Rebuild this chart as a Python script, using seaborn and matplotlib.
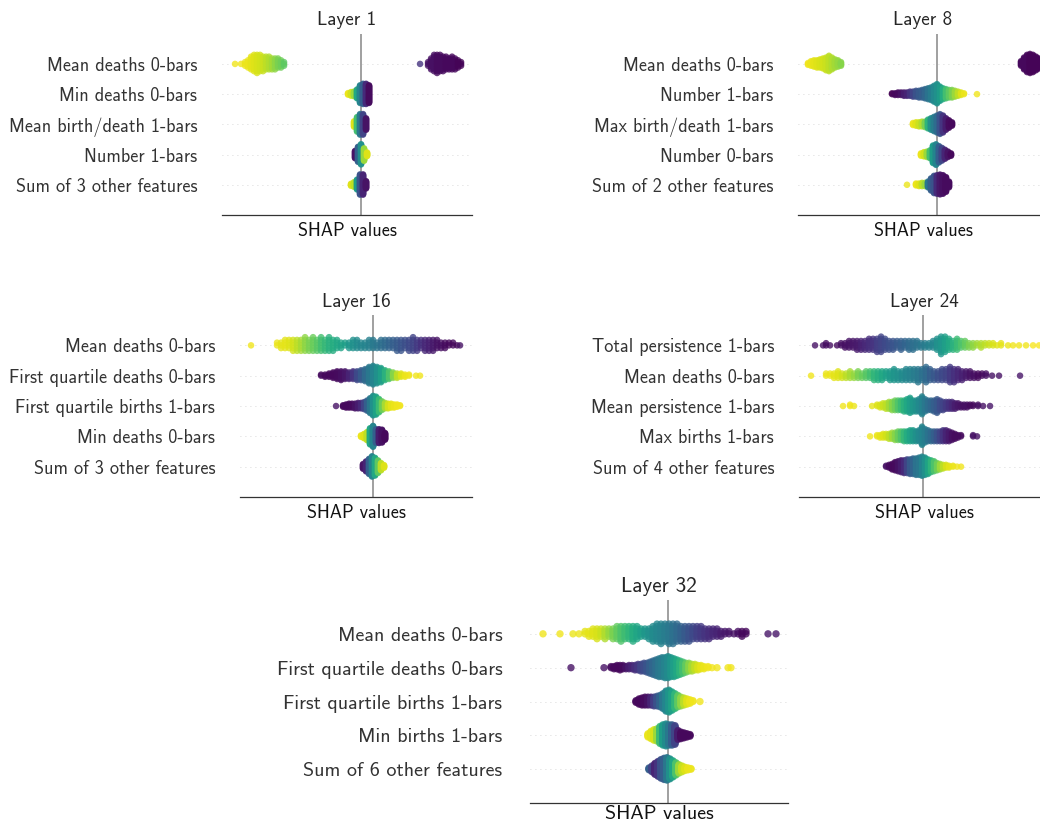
import numpy as np
import pandas as pd
import matplotlib
matplotlib.use("Agg")
import matplotlib.pyplot as plt
import seaborn as sns

# ---------------- data: (SHAP value, number of samples, feature value 0..1) ----------------
L1_LABELS = ["Mean deaths 0-bars", "Min deaths 0-bars", "Mean birth/death 1-bars",
             "Number 1-bars", "Sum of 3 other features"]
L1_R1 = [(-1.26, 1, .98), (-1.20, 1, .98), (-1.16, 3, .97), (-1.13, 5, .97), (-1.10, 8, .96),
         (-1.07, 10, .95), (-1.04, 11, .94), (-1.01, 10, .93), (-0.98, 9, .92), (-0.95, 8, .90),
         (-0.92, 8, .88), (-0.89, 7, .86), (-0.86, 7, .83), (-0.83, 6, .80), (-0.80, 5, .78),
         (-0.77, 3, .75),
         (0.59, 1, .15), (0.67, 3, .05), (0.70, 7, .04), (0.73, 10, .04), (0.76, 11, .03),
         (0.79, 10, .03), (0.82, 9, .03), (0.85, 8, .02), (0.88, 7, .02), (0.91, 8, .02),
         (0.94, 7, .02), (0.97, 5, .01), (1.00, 3, .01)]
L1_R2 = [(-0.13, 4, .97), (-0.10, 8, .93), (-0.07, 10, .85), (-0.04, 18, .6), (-0.01, 35, .45),
         (0.02, 40, .3), (0.05, 40, .12), (0.08, 35, .03)]
L1_R3 = [(-0.07, 10, .95), (-0.04, 25, .7), (-0.01, 35, .4), (0.02, 35, .2), (0.05, 20, .05)]
L1_R4 = [(-0.06, 15, .05), (-0.03, 30, .3), (0.00, 40, .5), (0.03, 25, .85), (0.06, 8, .95)]
L1_R5 = [(-0.10, 5, .95), (-0.07, 10, .9), (-0.04, 20, .55), (-0.01, 40, .25), (0.02, 40, .1),
         (0.05, 15, .05)]

L8_LABELS = ["Mean deaths 0-bars", "Number 1-bars", "Max birth/death 1-bars",
             "Number 0-bars", "Sum of 2 other features"]
L8_R1 = [(-1.29, 3, .98), (-1.26, 6, .97), (-1.23, 8, .96), (-1.20, 9, .95), (-1.17, 10, .94),
         (-1.14, 12, .93), (-1.11, 15, .92), (-1.08, 18, .90), (-1.05, 14, .88), (-1.02, 10, .86),
         (-0.99, 8, .84), (-0.96, 5, .82),
         (0.84, 6, .02), (0.87, 14, .02), (0.90, 20, .02), (0.93, 22, .01), (0.96, 20, .01),
         (0.99, 16, .01), (1.02, 12, .01), (1.05, 8, .01)]
L8_R2 = [(-0.45, 2, .0), (-0.42, 3, .02), (-0.39, 4, .03), (-0.36, 4, .05), (-0.33, 5, .08),
         (-0.30, 5, .1), (-0.27, 6, .15), (-0.24, 7, .2), (-0.21, 8, .25), (-0.18, 9, .28),
         (-0.15, 10, .3), (-0.12, 12, .33), (-0.09, 14, .38), (-0.06, 16, .42), (-0.03, 20, .47),
         (0.00, 24, .5), (0.03, 18, .55), (0.06, 14, .62), (0.09, 12, .7), (0.12, 10, .75),
         (0.15, 10, .8), (0.18, 8, .85), (0.21, 6, .9), (0.24, 4, .95), (0.27, 2, .97),
         (0.40, 1, .98)]
L8_R3 = [(-0.24, 4, .97), (-0.21, 6, .95), (-0.18, 7, .92), (-0.15, 8, .88), (-0.12, 9, .8),
         (-0.09, 14, .65), (-0.06, 18, .5), (-0.03, 22, .42), (0.00, 26, .35), (0.03, 30, .25),
         (0.06, 26, .15), (0.09, 18, .08), (0.12, 12, .03), (0.15, 6, .02)]
L8_R4 = [(-0.16, 5, .97), (-0.13, 8, .93), (-0.10, 10, .85), (-0.07, 14, .7), (-0.04, 30, .55),
         (-0.01, 35, .45), (0.02, 28, .3), (0.05, 22, .2), (0.08, 16, .1), (0.11, 10, .05),
         (0.14, 5, .02)]
L8_R5 = [(-0.30, 1, .97), (-0.21, 4, .97), (-0.18, 5, .95), (-0.15, 6, .9), (-0.12, 6, .85),
         (-0.09, 10, .4), (-0.06, 20, .3), (-0.03, 28, .25), (0.00, 30, .12), (0.03, 32, .06),
         (0.06, 30, .04), (0.09, 24, .03), (0.12, 10, .03)]

L16_LABELS = ["Mean deaths 0-bars", "First quartile deaths 0-bars", "First quartile births 1-bars",
              "Min deaths 0-bars", "Sum of 3 other features"]
L16_R1 = [(-1.22, 1, .98), (-0.96, 2, .97), (-0.92, 3, .96), (-0.88, 4, .96), (-0.84, 4, .95),
          (-0.80, 5, .93), (-0.76, 5, .9), (-0.72, 5, .87), (-0.68, 6, .83), (-0.64, 5, .8),
          (-0.60, 6, .77), (-0.56, 5, .74), (-0.52, 6, .7), (-0.48, 5, .67), (-0.44, 6, .64),
          (-0.40, 5, .62), (-0.36, 4, .6), (-0.32, 3, .58), (-0.28, 2, .56), (-0.24, 3, .53),
          (-0.20, 4, .5), (-0.16, 4, .48), (-0.12, 3, .46), (-0.08, 3, .45), (-0.04, 4, .43),
          (0.00, 4, .41), (0.04, 3, .39), (0.08, 4, .36), (0.12, 4, .34), (0.16, 4, .32),
          (0.20, 4, .3), (0.24, 5, .28), (0.28, 5, .26), (0.32, 4, .24), (0.36, 5, .22),
          (0.40, 6, .2), (0.44, 5, .17), (0.48, 4, .14), (0.52, 5, .11), (0.56, 5, .09),
          (0.60, 5, .07), (0.64, 4, .05), (0.68, 3, .04), (0.72, 3, .03), (0.76, 2, .02),
          (0.80, 2, .02), (0.84, 1, .02), (0.87, 1, .05)]
L16_R2 = [(-0.52, 2, .03), (-0.48, 3, .02), (-0.44, 4, .02), (-0.40, 6, .02), (-0.36, 8, .03),
          (-0.32, 9, .04), (-0.28, 8, .06), (-0.24, 7, .1), (-0.20, 8, .15), (-0.16, 9, .22),
          (-0.12, 10, .28), (-0.08, 12, .34), (-0.04, 16, .4), (0.00, 18, .45), (0.04, 16, .5),
          (0.08, 14, .56), (0.12, 10, .64), (0.16, 8, .72), (0.20, 6, .82), (0.24, 5, .9),
          (0.28, 4, .95), (0.32, 3, .97), (0.36, 2, .98), (0.43, 1, .98), (0.47, 1, .98)]
L16_R3 = [(-0.37, 1, .05), (-0.30, 3, .02), (-0.27, 5, .02), (-0.24, 6, .02), (-0.21, 6, .03),
          (-0.18, 7, .05), (-0.15, 8, .08), (-0.12, 8, .12), (-0.09, 10, .2), (-0.06, 14, .3),
          (-0.03, 20, .4), (0.00, 26, .5), (0.03, 24, .58), (0.06, 18, .68), (0.09, 12, .78),
          (0.12, 8, .87), (0.15, 7, .93), (0.18, 6, .96), (0.21, 5, .97), (0.24, 4, .98),
          (0.27, 2, .98)]
L16_R4 = [(-0.12, 4, .97), (-0.09, 10, .95), (-0.06, 18, .9), (-0.03, 35, .6), (0.00, 45, .45),
          (0.03, 30, .3), (0.06, 30, .08), (0.09, 28, .04), (0.12, 15, .02)]
L16_R5 = [(-0.10, 10, .05), (-0.07, 20, .1), (-0.04, 30, .3), (-0.01, 40, .45), (0.02, 35, .6),
          (0.05, 25, .75), (0.08, 15, .9), (0.11, 6, .95)]

L24_LABELS = ["Total persistence 1-bars", "Mean deaths 0-bars", "Mean persistence 1-bars",
              "Max births 1-bars", "Sum of 4 other features"]
L24_R1 = [(-1.08, 1, .05), (-1.00, 1, .05), (-0.97, 2, .04), (-0.93, 1, .04), (-0.86, 1, .03),
          (-0.82, 2, .04), (-0.78, 3, .04), (-0.74, 4, .05), (-0.70, 4, .06), (-0.66, 5, .07),
          (-0.62, 5, .09), (-0.58, 5, .11), (-0.54, 6, .13), (-0.50, 6, .15), (-0.46, 7, .18),
          (-0.42, 8, .2), (-0.38, 6, .22), (-0.34, 5, .24), (-0.30, 5, .26), (-0.26, 4, .28),
          (-0.22, 5, .3), (-0.18, 4, .32), (-0.14, 5, .34), (-0.10, 5, .36), (-0.06, 4, .38),
          (-0.02, 3, .4), (0.02, 3, .42), (0.06, 3, .44), (0.10, 4, .46), (0.14, 6, .5),
          (0.18, 9, .53), (0.22, 8, .56), (0.26, 6, .6), (0.30, 5, .64), (0.34, 6, .68),
          (0.38, 4, .72), (0.42, 4, .76), (0.46, 3, .8), (0.50, 3, .83), (0.54, 2, .86),
          (0.58, 3, .88), (0.62, 2, .9), (0.66, 2, .92), (0.70, 2, .94), (0.74, 1, .95),
          (0.78, 2, .96), (0.85, 1, .97), (0.90, 1, .98), (0.96, 1, .98), (1.03, 1, .98),
          (1.10, 1, .99), (1.16, 1, .99)]
L24_R2 = [(-1.12, 1, .98), (-0.97, 2, .97), (-0.93, 2, .97), (-0.89, 3, .96), (-0.85, 4, .95),
          (-0.81, 3, .93), (-0.77, 3, .9), (-0.73, 4, .87), (-0.69, 3, .84), (-0.65, 4, .8),
          (-0.61, 3, .77), (-0.57, 4, .74), (-0.53, 4, .7), (-0.49, 5, .66), (-0.45, 5, .63),
          (-0.41, 5, .6), (-0.37, 4, .57), (-0.33, 5, .54), (-0.29, 6, .52), (-0.25, 5, .5),
          (-0.21, 5, .48), (-0.17, 6, .46), (-0.13, 6, .44), (-0.09, 6, .42), (-0.05, 7, .4),
          (-0.01, 6, .37), (0.03, 8, .34), (0.07, 6, .3), (0.11, 5, .27), (0.15, 5, .24),
          (0.19, 6, .22), (0.23, 6, .2), (0.27, 8, .17), (0.31, 7, .14), (0.35, 6, .11),
          (0.39, 5, .09), (0.43, 4, .07), (0.47, 4, .05), (0.51, 3, .04), (0.55, 3, .03),
          (0.59, 2, .03), (0.63, 2, .04), (0.69, 1, .05), (0.76, 1, .05), (0.97, 1, .06)]
L24_R3 = [(-0.80, 1, .98), (-0.73, 2, .98), (-0.69, 1, .97), (-0.51, 1, .96), (-0.46, 2, .95),
          (-0.43, 3, .94), (-0.40, 4, .92), (-0.37, 5, .9), (-0.34, 6, .86), (-0.31, 7, .82),
          (-0.28, 8, .78), (-0.25, 8, .73), (-0.22, 8, .68), (-0.19, 9, .64), (-0.16, 10, .6),
          (-0.13, 12, .56), (-0.10, 9, .53), (-0.07, 9, .5), (-0.04, 10, .47), (-0.01, 14, .44),
          (0.02, 10, .4), (0.05, 8, .36), (0.08, 8, .33), (0.11, 9, .3), (0.14, 11, .27),
          (0.17, 8, .23), (0.20, 7, .2), (0.23, 6, .17), (0.26, 6, .14), (0.29, 6, .11),
          (0.32, 5, .08), (0.35, 4, .06), (0.38, 3, .05), (0.41, 3, .04), (0.44, 3, .04),
          (0.47, 2, .03), (0.50, 2, .03), (0.55, 2, .04), (0.60, 1, .05), (0.67, 1, .06)]
L24_R4 = [(-0.53, 1, .98), (-0.46, 2, .97), (-0.43, 3, .96), (-0.40, 4, .95), (-0.37, 4, .93),
          (-0.34, 5, .9), (-0.31, 6, .86), (-0.28, 7, .82), (-0.25, 8, .77), (-0.22, 8, .72),
          (-0.19, 9, .67), (-0.16, 9, .62), (-0.13, 10, .58), (-0.10, 10, .54), (-0.07, 9, .5),
          (-0.04, 10, .47), (-0.01, 16, .45), (0.02, 12, .42), (0.05, 10, .38), (0.08, 9, .34),
          (0.11, 9, .3), (0.14, 9, .25), (0.17, 9, .2), (0.20, 10, .15), (0.23, 10, .1),
          (0.26, 9, .07), (0.29, 7, .04), (0.32, 5, .03), (0.35, 3, .03), (0.38, 2, .03),
          (0.50, 2, .05), (0.54, 1, .05)]
L24_R5 = [(-0.37, 2, .05), (-0.34, 4, .03), (-0.31, 7, .02), (-0.28, 10, .03), (-0.25, 12, .05),
          (-0.22, 14, .08), (-0.19, 15, .12), (-0.16, 16, .2), (-0.13, 17, .28), (-0.10, 18, .32),
          (-0.07, 19, .38), (-0.04, 20, .4), (-0.01, 22, .45), (0.02, 20, .5), (0.05, 17, .58),
          (0.08, 14, .65), (0.11, 12, .72), (0.14, 9, .78), (0.17, 7, .85), (0.20, 5, .9),
          (0.23, 4, .94), (0.26, 3, .96), (0.30, 2, .97), (0.34, 1, .98), (0.38, 1, .98)]

L32_LABELS = ["Mean deaths 0-bars", "First quartile deaths 0-bars", "First quartile births 1-bars",
              "Min births 1-bars", "Sum of 6 other features"]
L32_R1 = [(-1.25, 1, .98), (-1.08, 1, .98), (-0.95, 1, .97), (-0.89, 1, .97), (-0.83, 2, .96),
          (-0.79, 3, .96), (-0.75, 4, .95), (-0.71, 5, .94), (-0.67, 4, .92), (-0.63, 5, .88),
          (-0.59, 4, .84), (-0.55, 5, .8), (-0.51, 6, .76), (-0.47, 7, .72), (-0.43, 6, .69),
          (-0.39, 6, .66), (-0.35, 7, .62), (-0.31, 6, .59), (-0.27, 4, .56), (-0.23, 4, .53),
          (-0.19, 5, .5), (-0.15, 7, .48), (-0.11, 8, .46), (-0.07, 9, .44), (-0.03, 8, .42),
          (0.01, 9, .4), (0.05, 9, .37), (0.09, 8, .34), (0.13, 7, .31), (0.17, 7, .28),
          (0.21, 7, .25), (0.25, 6, .22), (0.29, 6, .19), (0.33, 6, .17), (0.37, 5, .15),
          (0.41, 5, .13), (0.45, 4, .11), (0.49, 4, .1), (0.53, 3, .08), (0.57, 2, .07),
          (0.61, 2, .06), (0.66, 1, .05), (0.70, 2, .04), (0.74, 3, .02), (0.78, 2, .02),
          (1.00, 1, .06), (1.08, 1, .06)]
L32_R2 = [(-0.97, 1, .05), (-0.64, 1, .05), (-0.57, 2, .03), (-0.54, 3, .02), (-0.51, 4, .02),
          (-0.48, 5, .02), (-0.45, 4, .03), (-0.42, 3, .05), (-0.39, 4, .08), (-0.36, 4, .1),
          (-0.33, 5, .13), (-0.30, 6, .16), (-0.27, 7, .2), (-0.24, 8, .23), (-0.21, 9, .26),
          (-0.18, 11, .3), (-0.15, 13, .33), (-0.12, 15, .36), (-0.09, 17, .4), (-0.06, 18, .42),
          (-0.03, 19, .45), (0.00, 20, .48), (0.03, 18, .52), (0.06, 17, .56), (0.09, 15, .6),
          (0.12, 13, .65), (0.15, 11, .7), (0.18, 9, .76), (0.21, 8, .82), (0.24, 7, .87),
          (0.27, 6, .91), (0.30, 5, .94), (0.33, 4, .96), (0.36, 3, .97), (0.40, 2, .98),
          (0.44, 1, .98), (0.49, 1, .98), (0.60, 1, .98), (0.63, 1, .98)]
L32_R3 = [(-0.32, 3, .02), (-0.29, 7, .02), (-0.26, 9, .02), (-0.23, 10, .03), (-0.20, 10, .05),
          (-0.17, 10, .1), (-0.14, 11, .18), (-0.11, 12, .25), (-0.08, 14, .32), (-0.05, 18, .4),
          (-0.02, 24, .46), (0.01, 26, .52), (0.04, 22, .58), (0.07, 18, .66), (0.10, 14, .75),
          (0.13, 11, .83), (0.16, 9, .9), (0.19, 7, .95), (0.22, 5, .97), (0.25, 2, .98),
          (0.32, 1, .98)]
L32_R4 = [(-0.20, 5, .97), (-0.17, 10, .96), (-0.14, 14, .94), (-0.11, 16, .85), (-0.08, 22, .68),
          (-0.05, 26, .55), (-0.02, 28, .48), (0.01, 26, .4), (0.04, 26, .3), (0.07, 24, .2),
          (0.10, 12, .08), (0.13, 9, .03), (0.16, 7, .02), (0.19, 5, .02), (0.22, 3, .02)]
L32_R5 = [(-0.19, 4, .3), (-0.16, 10, .2), (-0.13, 18, .1), (-0.10, 24, .15), (-0.07, 30, .25),
          (-0.04, 34, .3), (-0.01, 36, .4), (0.02, 32, .5), (0.05, 26, .6), (0.08, 20, .72),
          (0.11, 14, .85), (0.14, 10, .92), (0.17, 6, .95), (0.20, 4, .97), (0.23, 2, .97)]

TITLES = ["Layer 1", "Layer 8", "Layer 16", "Layer 24", "Layer 32"]

# ---------------- style ----------------
sns.set_style("white")
plt.rcParams["font.family"] = ["cmss10", "DejaVu Sans"]
plt.rcParams["axes.unicode_minus"] = False
plt.rcParams["mathtext.fontset"] = "cm"

fig = plt.figure(figsize=(10.4, 8.26), dpi=100)

# layout: [left, bottom, width, height], xlim, font scale, dot size, xlabel pad
LAYOUT = [
    ([0.2135, 0.7397, 0.2404, 0.2195], (-1.39, 1.11), 1.0, 22, 5),
    ([0.7673, 0.7397, 0.2404, 0.2195], (-1.39, 1.11), 1.0, 22, 5),
    ([0.2308, 0.3983, 0.2231, 0.2203], (-1.33, 0.99), 1.0, 22, 5),
    ([0.7683, 0.3983, 0.2404, 0.2203], (-1.24, 1.26), 1.0, 22, 5),
    ([0.5096, 0.0278, 0.2481, 0.2458], (-1.38, 1.20), 1.10, 28, 1.5),
]
PANEL_ROWS = [
    (L1_LABELS, [L1_R1, L1_R2, L1_R3, L1_R4, L1_R5]),
    (L8_LABELS, [L8_R1, L8_R2, L8_R3, L8_R4, L8_R5]),
    (L16_LABELS, [L16_R1, L16_R2, L16_R3, L16_R4, L16_R5]),
    (L24_LABELS, [L24_R1, L24_R2, L24_R3, L24_R4, L24_R5]),
    (L32_LABELS, [L32_R1, L32_R2, L32_R3, L32_R4, L32_R5]),
]


def beeswarm_offsets(x, row_height=0.4, nbins=100):
    """SHAP-style vertical jitter of overlapping points."""
    n = len(x)
    quant = np.round(nbins * (x - x.min()) / (x.max() - x.min() + 1e-8))
    inds = np.argsort(quant, kind="stable")
    ys = np.zeros(n)
    layer, last = 0, -1
    for ind in inds:
        if quant[ind] != last:
            layer = 0
        ys[ind] = np.ceil(layer / 2) * ((layer % 2) * 2 - 1)
        layer += 1
        last = quant[ind]
    ys *= 0.9 * (row_height / np.max(ys + 1))
    return ys


for (pos, xlim, fs, dot, lpad), (labels, rows), title in zip(LAYOUT, PANEL_ROWS, TITLES):
    ax = fig.add_axes(pos)
    nrow = len(rows)
    frames = []
    for i, row in enumerate(rows):
        ypos = nrow - 1 - i
        vals = np.array([r[0] for r in row])
        cnts = np.array([r[1] for r in row])
        cols = np.array([r[2] for r in row])
        sx = np.repeat(vals, cnts)
        sc = np.repeat(cols, cnts)
        sy = ypos + beeswarm_offsets(sx)
        frames.append(pd.DataFrame({"shap": sx, "y": sy, "feat": sc}))
        ax.axhline(ypos, color="#cccccc", lw=0.6, dashes=(1, 5), zorder=-1)
    df = pd.concat(frames, ignore_index=True)
    ax.axvline(0, color="#999999", lw=1.3, zorder=-1)
    sns.scatterplot(data=df, x="shap", y="y", hue="feat", palette="viridis",
                    hue_norm=(0, 1), s=dot, alpha=0.8, linewidth=0, legend=False,
                    ax=ax, zorder=3)
    ax.set_xlim(*xlim)
    ax.set_ylim(-1, nrow)
    ax.set_yticks(range(nrow))
    ax.set_yticklabels(labels[::-1], fontsize=13.1 * fs, color="#333333")
    ax.tick_params(axis="y", length=0, pad=18 * fs)
    ax.set_xticks([])
    ax.set_xlabel("SHAP values", fontsize=13.1 * fs, color="#111111", labelpad=lpad)
    ax.set_ylabel("")
    ax.set_title(title, fontsize=13.8 * fs, pad=6)
    for side in ["top", "right", "left"]:
        ax.spines[side].set_visible(False)
    ax.spines["bottom"].set_color("#333333")
    ax.spines["bottom"].set_linewidth(0.9)

fig.savefig("out.png", dpi=100)
